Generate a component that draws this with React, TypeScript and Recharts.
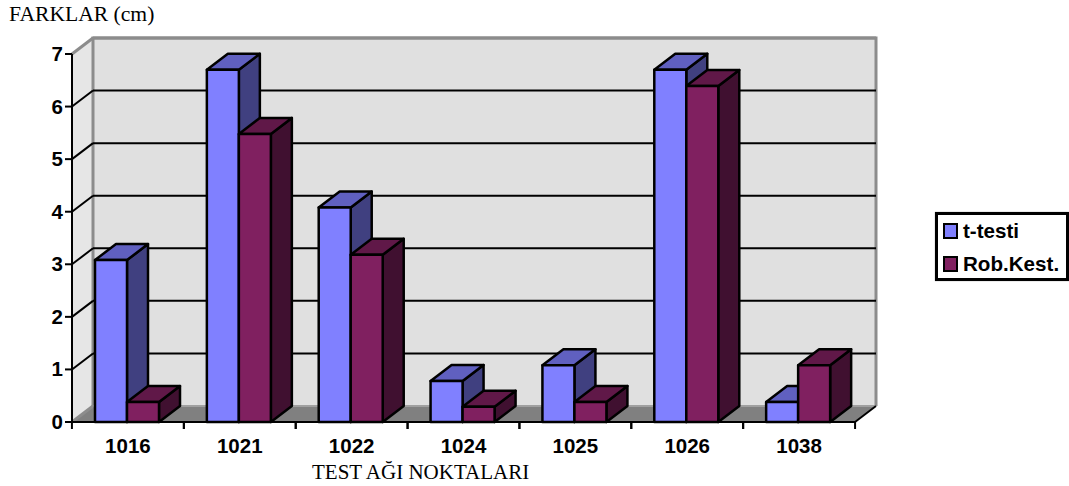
import { Bar, BarChart, CartesianGrid, Legend, XAxis, YAxis } from "recharts";

const points = ["1016", "1021", "1022", "1024", "1025", "1026", "1038"];
const tTesti = [3.08, 6.7, 4.08, 0.78, 1.08, 6.7, 0.38];
const robKest = [0.38, 5.48, 3.18, 0.29, 0.38, 6.39, 1.08];
const yTicks = [0, 1, 2, 3, 4, 5, 6, 7];

const data = points.map((point, i) => ({
  point,
  tTesti: tTesti[i],
  robKest: robKest[i],
}));

// oblique offset of the 3D box
const DX = 21;
const DY = 16;

const BOLD = "'Liberation Sans', Arial, sans-serif";
const SERIF = "'Liberation Serif', 'Times New Roman', serif";

// Walls, floor and gridlines all come through the grid's line renderer, so they
// stay under the bars and follow the value axis.
function gridLine(props: any) {
  const { x, y, width, height, x1, x2, y1, index } = props;
  const top = Math.abs(y1 - y) < 0.5;
  const bottom = Math.abs(y1 - (y + height)) < 0.5;
  const edge = top || bottom;
  return (
    <g key={`line-${index}`}>
      {index === 0 && (
        <g>
          <rect x={x + DX} y={y - DY} width={width} height={height} fill="#e0e0e0" />
          <polygon
            points={`${x},${y} ${x + DX},${y - DY} ${x + DX},${y + height - DY} ${x},${y + height}`}
            fill="#e6e6e6"
          />
          <polygon
            points={`${x},${y + height} ${x + DX},${y + height - DY} ${x + width + DX},${y + height - DY} ${x + width},${y + height}`}
            fill="#808080"
          />
          <path
            d={`M${x + DX},${y + height - DY} V${y - DY} H${x + width + DX} V${y + height - DY}`}
            fill="none"
            stroke="#8c8c8c"
            strokeWidth={3}
          />
        </g>
      )}
      <line
        x1={x1 + DX}
        x2={x2 + DX}
        y1={y1 - DY}
        y2={y1 - DY}
        stroke={top ? "#8c8c8c" : bottom ? "#a0a0a0" : "#000"}
        strokeWidth={top ? 3 : 2}
      />
      <line
        x1={x1}
        x2={x1 + DX}
        y1={y1}
        y2={y1 - DY}
        stroke={edge ? "#8c8c8c" : "#000"}
        strokeWidth={edge ? 3 : 2}
      />
      {bottom && (
        <line x1={x2} x2={x2 + DX} y1={y1} y2={y1 - DY} stroke="#000" strokeWidth={2} />
      )}
    </g>
  );
}

function Box3D(props: any) {
  const { x, y, width, height, front, topFace, side } = props;
  const left = x - 1;
  const right = left + width;
  const bottom = y + height;
  return (
    <g stroke="#000" strokeWidth={2.5} strokeLinejoin="round">
      <polygon
        points={`${right},${y} ${right + DX},${y - DY} ${right + DX},${bottom - DY} ${right},${bottom}`}
        fill={side}
      />
      <polygon
        points={`${left},${y} ${left + DX},${y - DY} ${right + DX},${y - DY} ${right},${y}`}
        fill={topFace}
      />
      <rect x={left} y={y} width={width} height={height} fill={front} />
    </g>
  );
}

function CategoryTick(props: any) {
  const { x, y, payload } = props;
  return (
    <g>
      <line x1={x - 56} x2={x - 56} y1={y - 9} y2={y - 1} stroke="#000" strokeWidth={2} />
      <line x1={x + 56} x2={x + 56} y1={y - 9} y2={y - 1} stroke="#000" strokeWidth={2} />
      <text x={x} y={y + 23} textAnchor="middle" fontFamily={BOLD} fontWeight="bold" fontSize={20.5} fill="#000">
        {payload.value}
      </text>
    </g>
  );
}

function ValueTick(props: any) {
  const { x, y, payload } = props;
  return (
    <text x={x} y={y + 7} textAnchor="end" fontFamily={BOLD} fontWeight="bold" fontSize={20.5} fill="#000">
      {payload.value}
    </text>
  );
}

const swatchColors: Record<string, string> = {
  tTesti: "#8080ff",
  robKest: "#802060",
};

function LegendBox({ payload }: any) {
  return (
    <div
      style={{
        boxSizing: "border-box",
        width: 134,
        height: 69,
        border: "3px solid #000",
        boxShadow: "0 0 1px #888",
        background: "#fff",
        paddingTop: 1,
        paddingLeft: 5,
      }}
    >
      {(payload ?? []).map((entry: any) => (
        <div
          key={entry.value}
          style={{
            display: "flex",
            alignItems: "center",
            height: 29,
            marginBottom: 4,
            fontFamily: BOLD,
            fontWeight: "bold",
            fontSize: 20.6,
            color: "#000",
          }}
        >
          <span
            style={{
              boxSizing: "border-box",
              width: 15,
              height: 16,
              marginRight: 5,
              border: "2px solid #000",
              background: swatchColors[entry.dataKey],
            }}
          />
          {entry.value}
        </div>
      ))}
    </div>
  );
}

const captionStyle = {
  position: "absolute" as const,
  fontFamily: SERIF,
  fontSize: 21,
  lineHeight: "24px",
  color: "#000",
  whiteSpace: "nowrap" as const,
};

export default function App() {
  return (
    <div style={{ position: "absolute", left: 0, top: 0, width: 1069, height: 486, background: "#fff" }}>
      <BarChart
        width={1069}
        height={486}
        data={data}
        margin={{ top: 54, right: 214, bottom: 0, left: 0 }}
        barSize={32}
        barGap={0}
      >
        <CartesianGrid vertical={false} horizontal={gridLine} stroke="#000" />
        <XAxis
          dataKey="point"
          height={64}
          axisLine={{ stroke: "#000", strokeWidth: 2 }}
          tickLine={false}
          tick={CategoryTick}
          interval={0}
        />
        <YAxis
          width={72}
          domain={[0, 7]}
          ticks={yTicks}
          axisLine={{ stroke: "#000", strokeWidth: 2 }}
          tickLine={{ stroke: "#000", strokeWidth: 2 }}
          tickSize={7}
          tickMargin={2}
          tick={ValueTick}
          interval={0}
        />
        <Bar
          dataKey="tTesti"
          name="t-testi"
          isAnimationActive={false}
          shape={(p: any) => <Box3D {...p} front="#8080ff" topFace="#6060c0" side="#404080" />}
        />
        <Bar
          dataKey="robKest"
          name="Rob.Kest."
          isAnimationActive={false}
          shape={(p: any) => <Box3D {...p} front="#802060" topFace="#601848" side="#401030" />}
        />
        <Legend
          layout="vertical"
          align="center"
          verticalAlign="middle"
          itemSorter={null}
          wrapperStyle={{ left: 935, top: 212, width: 134, height: 69 }}
          content={LegendBox}
        />
      </BarChart>
      <div style={{ ...captionStyle, left: 9, top: 2, fontSize: 21.6 }}>FARKLAR (cm)</div>
      <div style={{ ...captionStyle, left: 312, top: 460 }}>TEST AĞI NOKTALARI</div>
    </div>
  );
}
